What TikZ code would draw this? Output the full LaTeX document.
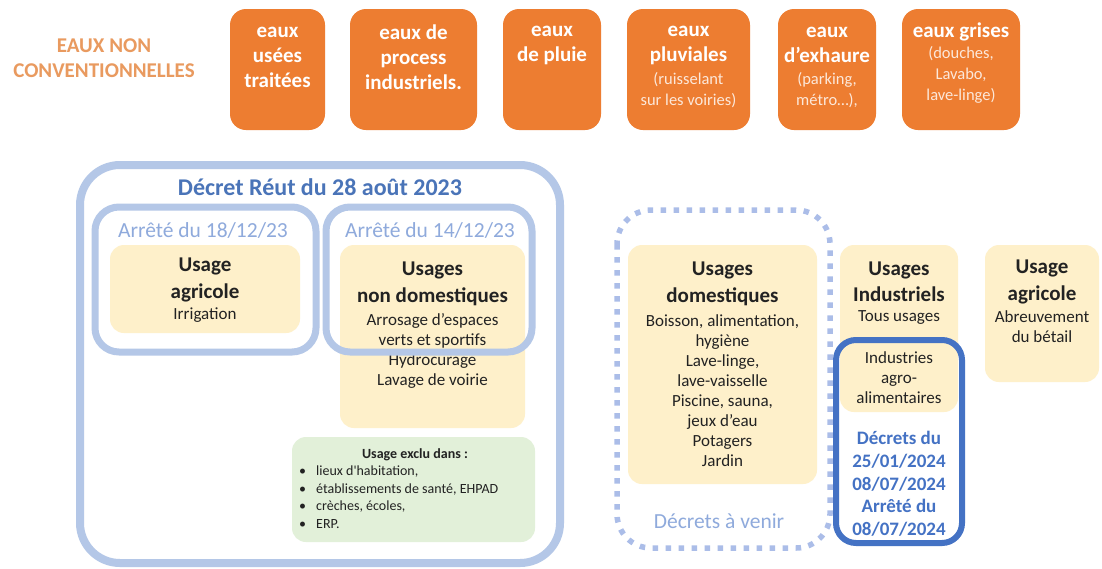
\documentclass[tikz,border=0pt]{standalone}
\usepackage{fontspec}
\setmainfont{Carlito}
\definecolor{orng}{HTML}{ED7D31}
\definecolor{orngtxt}{HTML}{E99A5F}
\definecolor{frameblue}{HTML}{B4C7E7}
\definecolor{titleblue}{HTML}{4A74B8}
\definecolor{lightblue}{HTML}{8FAADC}
\definecolor{darkblue}{HTML}{4472C4}
\definecolor{ylw}{HTML}{FEF0CA}
\definecolor{grn}{HTML}{E2F0D9}
\definecolor{txt}{HTML}{222222}
\definecolor{subwhite}{HTML}{FCE8DA}
\begin{document}
\begin{tikzpicture}[x=1pt,y=-1pt,
  orangebox/.style={fill=orng,rounded corners=16pt},
  yellowbox/.style={fill=ylw,rounded corners=14pt},
  greenbox/.style={fill=grn,rounded corners=14pt},
  frame/.style={draw=frameblue,line width=7pt,rounded corners=24pt},
  bigframe/.style={draw=frameblue,line width=8pt,rounded corners=40pt},
  dotframe/.style={draw=frameblue!95!blue,line width=5.5pt,dash pattern=on 5.5pt off 7.5pt,rounded corners=34pt},
  darkframe/.style={draw=darkblue,line width=6pt,rounded corners=20pt},
  orangehead/.style={font=\fontsize{21}{25}\selectfont\bfseries,align=center,text=white,inner sep=0pt},
  orangesub/.style={font=\fontsize{16.5}{21}\selectfont,align=center,text=subwhite,inner sep=0pt},
  head/.style={font=\fontsize{21}{26.5}\selectfont\bfseries,align=center,text=txt,inner sep=0pt},
  body/.style={font=\fontsize{17}{20}\selectfont,align=center,text=txt,inner sep=0pt},
  arrtitle/.style={font=\fontsize{21.5}{25}\selectfont,text=lightblue,inner sep=0pt},
  bluetxt/.style={font=\fontsize{19}{22.75}\selectfont\bfseries,align=center,text=darkblue,inner sep=0pt},
  small/.style={font=\fontsize{14}{17.5}\selectfont,align=left,text=txt,inner sep=0pt}
]
\useasboundingbox[fill=white] (0,0) rectangle (1102,568);

% left title
\node[font=\fontsize{21}{25}\selectfont\bfseries,align=center,text=orngtxt,inner sep=0pt] (enc) at (104,58.5) {EAUX NON\\CONVENTIONNELLES};

% orange boxes
\path[orangebox] (230,9) rectangle (325,130);
\node[orangehead] (o1) at (277.5,57) {eaux\\usées\\traitées};
\path[orangebox] (350,9) rectangle (477,130);
\node[orangehead] (o2) at (413.5,57) {eaux de\\process\\industriels.};
\path[orangebox] (503,9) rectangle (601,130);
\node[orangehead] (o3) at (552,45) {eaux\\de pluie};
\path[orangebox] (627,9) rectangle (750,130);
\node[orangehead] (o4) at (688.5,45) {eaux\\pluviales};
\node[orangesub] (o4s) at (688.5,90) {(ruisselant\\sur les voiries)};
\path[orangebox] (778,9) rectangle (876,130);
\node[orangehead] (o5) at (827,45) {eaux\\d’exhaure};
\node[orangesub] (o5s) at (827,90) {(parking,\\métro…),};
\path[orangebox] (902,9) rectangle (1020,130);
\node[orangehead] (o6) at (961,32) {eaux grises};
\node[orangesub] (o6s) at (961,75) {(douches,\\Lavabo,\\lave-linge)};

% Decret frame
\draw[bigframe] (80,165) rectangle (560,563);
\node[font=\fontsize{24}{28}\selectfont\bfseries,text=titleblue,inner sep=0pt] (dec) at (320,187) {Décret Réut du 28 août 2023};

% Arrete 18/12
\path[yellowbox] (110,245) rectangle (300,333);
\node[head] (ua) at (205,280) {Usage\\agricole};
\node[body] (irr) at (205,315) {Irrigation};
\draw[frame] (95,207) rectangle (316,352);
\node[arrtitle] (a1) at (203,230) {Arrêté du 18/12/23};

% Arrete 14/12
\path[yellowbox] (340,245) rectangle (525,428);
\node[head] (und) at (432.5,284) {Usages\\non domestiques};
\node[body] (undb) at (432.5,351) {Arrosage d’espaces\\verts et sportifs\\Hydrocurage\\Lavage de voirie};
\draw[frame] (326,207) rectangle (532,352);
\node[arrtitle] (a2) at (430,230) {Arrêté du 14/12/23};

% excluded
\path[greenbox] (292,437) rectangle (535,542);
\node[font=\fontsize{14}{17}\selectfont\bfseries,text=txt,inner sep=0pt] (ex) at (415,455) {Usage exclu dans :};
\node[small,anchor=west] (exl) at (299,497) {\makebox[17pt][l]{•}lieux d\textquotesingle habitation,\\\makebox[17pt][l]{•}établissements de santé, EHPAD\\\makebox[17pt][l]{•}crèches, écoles,\\\makebox[17pt][l]{•}ERP.};

% domestic
\draw[dotframe] (617,210) rectangle (830,548);
\path[yellowbox] (628,245) rectangle (817,484);
\node[head] (ud) at (722.5,284) {Usages\\domestiques};
\node[body] (udb) at (722.5,391) {Boisson, alimentation,\\hygiène\\Lave-linge,\\lave-vaisselle\\Piscine, sauna,\\jeux d’eau\\Potagers\\Jardin};
\node[arrtitle] (dav) at (719,521) {Décrets à venir};

% industrial
\path[yellowbox] (840,245) rectangle (958,412);
\node[head] (ui) at (899,282) {Usages\\Industriels};
\node[body] (tu) at (899,317) {Tous usages};
\node[body] (iaa) at (899,378) {Industries\\agro-\\alimentaires};
\draw[darkframe] (836,340) rectangle (962,543);
\node[bluetxt] (dd) at (899,484) {Décrets du\\25/01/2024\\08/07/2024\\Arrêté du\\08/07/2024};

% agricole right
\path[yellowbox] (985,245) rectangle (1099,382);
\node[head] (ua2) at (1042,282) {Usage\\agricole};
\node[body] (ab) at (1042,327) {Abreuvement\\du bétail};
\end{tikzpicture}
\end{document}
